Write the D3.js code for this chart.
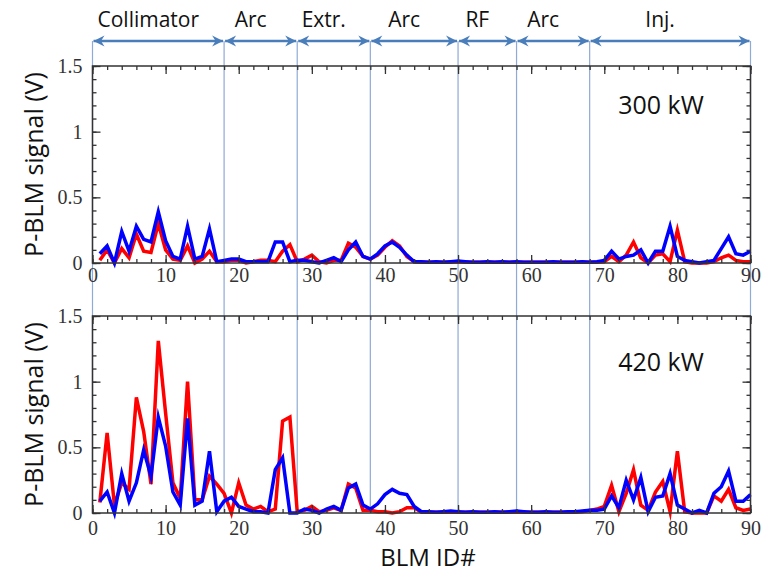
<!DOCTYPE html>
<html><head><meta charset="utf-8">
<script src="https://cdn.jsdelivr.net/npm/d3@7"></script>
<style>body{margin:0;background:#fff}</style>
</head><body>
<svg id="chart" width="765" height="575"></svg>
<script>
// ---------- data ----------
const blmIds = d3.range(1, 91);
const red300 = [0.02,0.10,0.00,0.11,0.04,0.22,0.09,0.08,0.30,0.10,
 0.03,0.02,0.13,0.00,0.03,0.09,0.01,0.01,0.02,0.02,
 0.00,0.01,0.02,0.02,0.01,0.09,0.14,0.01,0.03,0.06,
 0.01,0.00,0.02,0.02,0.15,0.12,0.05,0.03,0.06,0.12,
 0.17,0.13,0.05,0.01,0.005,0.005,0.005,0.005,0.005,0.01,
 0.005,0.005,0.005,0.005,0.005,0.005,0.005,0.005,0.005,0.005,
 0.005,0.005,0.005,0.005,0.005,0.005,0.005,0.005,0.005,0.01,
 0.05,0.01,0.06,0.16,0.04,0.00,0.06,0.07,0.01,0.25,
 0.01,0.00,0.00,0.00,0.01,0.04,0.06,0.02,0.01,0.01];
const blue300 = [0.07,0.13,0.00,0.24,0.09,0.28,0.18,0.16,0.39,0.17,
 0.05,0.03,0.28,0.03,0.05,0.26,0.01,0.02,0.03,0.03,
 0.01,0.01,0.01,0.01,0.16,0.16,0.01,0.02,0.02,0.01,
 0.00,0.02,0.04,0.01,0.10,0.16,0.05,0.03,0.07,0.13,
 0.16,0.12,0.06,0.01,0.01,0.005,0.01,0.005,0.01,0.015,
 0.01,0.005,0.005,0.01,0.005,0.01,0.005,0.01,0.005,0.005,
 0.005,0.005,0.01,0.005,0.005,0.005,0.01,0.005,0.01,0.02,
 0.09,0.03,0.05,0.06,0.10,0.00,0.09,0.09,0.28,0.05,
 0.02,0.01,0.00,0.01,0.02,0.11,0.20,0.07,0.06,0.09];
const red420 = [0.08,0.61,0.06,0.23,0.18,0.88,0.62,0.22,1.31,0.76,
 0.23,0.11,1.00,0.10,0.10,0.28,0.22,0.15,0.00,0.23,
 0.06,0.03,0.05,0.01,0.03,0.70,0.73,0.01,0.02,0.05,
 0.01,0.02,0.04,0.02,0.22,0.19,0.02,0.02,0.01,0.01,
 0.00,0.01,0.04,0.04,0.005,0.005,0.005,0.005,0.005,0.005,
 0.005,0.005,0.005,0.005,0.005,0.005,0.005,0.005,0.005,0.005,
 0.005,0.005,0.005,0.005,0.005,0.005,0.01,0.02,0.03,0.05,
 0.21,0.01,0.15,0.33,0.06,0.02,0.16,0.24,0.01,0.47,
 0.01,0.00,0.00,0.00,0.13,0.09,0.18,0.04,0.02,0.03];
const blue420 = [0.09,0.16,0.00,0.30,0.09,0.23,0.48,0.28,0.73,0.51,
 0.16,0.06,0.72,0.06,0.09,0.47,0.01,0.09,0.12,0.05,
 0.03,0.01,0.01,0.00,0.33,0.42,0.00,0.00,0.03,0.02,
 0.00,0.03,0.05,0.02,0.19,0.22,0.06,0.03,0.07,0.14,
 0.18,0.15,0.14,0.05,0.01,0.01,0.005,0.01,0.015,0.01,
 0.005,0.01,0.005,0.005,0.01,0.005,0.01,0.015,0.01,0.005,
 0.005,0.01,0.005,0.005,0.01,0.01,0.015,0.02,0.02,0.03,
 0.13,0.04,0.25,0.10,0.27,0.01,0.12,0.13,0.30,0.06,
 0.03,0.00,0.02,0.00,0.15,0.20,0.32,0.09,0.09,0.14];
const sectionBounds = [0,18,28,38,50,58,68,90];
const sectionLabels = ["Collimator","Arc","Extr.","Arc","RF","Arc","Inj."];
const panelLabels = ["300 kW","420 kW"];
const yTickValues = [0,0.5,1,1.5];
const yTickLabels = ["0","0.5","1","1.5"];
const xTickValues = d3.range(0,91,10);
const xTickLabels = xTickValues.map(String);
const yTitle = "P-BLM signal (V)";
const xTitle = "BLM ID#";

// ---------- layout ----------
const svg = d3.select("#chart");
const L = 92.5, R = 750.5;
const x = d3.scaleLinear().domain([0,90]).range([L,R]);
const panels = [
  {top:66, bottom:263, red:red300, blue:blue300, label:panelLabels[0], labelY:114, xpad:5},
  {top:316, bottom:513, red:red420, blue:blue420, label:panelLabels[1], labelY:371, xpad:8}
];
const axisColor = "#333";
const sectColor = "#8eaad6";
const arrowColor = "#4a7ebb";
const arrowY = 41;

// arrow marker
const defs = svg.append("defs");
defs.append("marker").attr("id","ah")
  .attr("viewBox","-2 -7 14 14").attr("refX",10).attr("refY",0)
  .attr("markerWidth",14).attr("markerHeight",14)
  .attr("markerUnits","userSpaceOnUse")
  .attr("orient","auto-start-reverse")
  .append("path").attr("d","M-1,-5.5 L10,0 L-1,5.5 L2.5,0 Z").attr("fill",arrowColor);

// section vertical lines
svg.append("g").selectAll("line").data(sectionBounds).join("line")
  .attr("x1",d=>x(d)).attr("x2",d=>x(d))
  .attr("y1",arrowY).attr("y2",panels[1].bottom)
  .attr("stroke",sectColor).attr("stroke-width",1.2);

// arrows
const segs = sectionLabels.map((lab,i)=>({lab, a:sectionBounds[i], b:sectionBounds[i+1]}));
svg.append("g").selectAll("line").data(segs).join("line")
  .attr("x1",d=>x(d.a)+1).attr("x2",d=>x(d.b)-1)
  .attr("y1",arrowY).attr("y2",arrowY)
  .attr("stroke",arrowColor).attr("stroke-width",2.5)
  .attr("marker-start","url(#ah)").attr("marker-end","url(#ah)");
svg.append("g").selectAll("text").data(segs).join("text")
  .attr("x",d=>(x(d.a)+x(d.b))/2 - 10).attr("y",27)
  .attr("text-anchor","middle")
  .attr("font-family","'Open Sans', sans-serif").attr("font-size",21)
  .attr("fill","#111").text(d=>d.lab);

const line = d3.line().x((d,i)=>x(blmIds[i]));

panels.forEach(p=>{
  const y = d3.scaleLinear().domain([0,1.5]).range([p.bottom,p.top]);
  const g = svg.append("g");
  // data lines
  line.y(d=>y(d));
  g.append("path").datum(p.red).attr("d",line).attr("fill","none")
    .attr("stroke","#ff0000").attr("stroke-width",3.5).attr("stroke-linejoin","miter").attr("stroke-miterlimit",6);
  g.append("path").datum(p.blue).attr("d",line).attr("fill","none")
    .attr("stroke","#0000ff").attr("stroke-width",3.5).attr("stroke-linejoin","miter").attr("stroke-miterlimit",6);

  const styleAxis = sel => {
    sel.select(".domain").remove();
    sel.selectAll("line").attr("stroke",axisColor).attr("stroke-width",1.3);
    sel.selectAll("text").attr("fill",axisColor)
      .attr("font-family","'Liberation Serif', 'Times New Roman', serif").attr("font-size",20);
  };
  // left major
  g.append("g").attr("transform",`translate(${L},0)`)
    .call(d3.axisLeft(y).tickValues(yTickValues).tickFormat((d,i)=>yTickLabels[i]).tickSizeInner(-8).tickSizeOuter(0).tickPadding(10))
    .call(styleAxis);
  g.append("g").attr("transform",`translate(${L},0)`)
    .call(d3.axisLeft(y).tickValues(d3.range(0,1.51,0.1)).tickFormat("").tickSizeInner(-4).tickSizeOuter(0))
    .call(styleAxis);
  // right
  g.append("g").attr("transform",`translate(${R},0)`)
    .call(d3.axisRight(y).tickValues(yTickValues).tickFormat("").tickSizeInner(-8).tickSizeOuter(0))
    .call(styleAxis);
  g.append("g").attr("transform",`translate(${R},0)`)
    .call(d3.axisRight(y).tickValues(d3.range(0,1.51,0.1)).tickFormat("").tickSizeInner(-4).tickSizeOuter(0))
    .call(styleAxis);
  // bottom
  g.append("g").attr("transform",`translate(0,${p.bottom})`)
    .call(d3.axisBottom(x).tickValues(xTickValues).tickFormat((d,i)=>xTickLabels[i]).tickSizeInner(-8).tickSizeOuter(0).tickPadding(p.xpad))
    .call(styleAxis);
  g.append("g").attr("transform",`translate(0,${p.bottom})`)
    .call(d3.axisBottom(x).tickValues(d3.range(0,91,2)).tickFormat("").tickSizeInner(-4).tickSizeOuter(0))
    .call(styleAxis);
  // top
  g.append("g").attr("transform",`translate(0,${p.top})`)
    .call(d3.axisTop(x).tickValues(xTickValues).tickFormat("").tickSizeInner(-8).tickSizeOuter(0))
    .call(styleAxis);
  g.append("g").attr("transform",`translate(0,${p.top})`)
    .call(d3.axisTop(x).tickValues(d3.range(0,91,2)).tickFormat("").tickSizeInner(-4).tickSizeOuter(0))
    .call(styleAxis);
  // frame
  g.append("rect").attr("x",L).attr("y",p.top).attr("width",R-L).attr("height",p.bottom-p.top)
    .attr("fill","none").attr("stroke",axisColor).attr("stroke-width",1.5);
  // panel label
  g.append("text").attr("x",661).attr("y",p.labelY).attr("text-anchor","middle")
    .attr("font-family","'Open Sans', sans-serif").attr("font-size",25).attr("fill","#111")
    .text(p.label);
  // y title
  g.append("text").attr("transform",`translate(43,${(p.top+p.bottom)/2}) rotate(-90)`)
    .attr("text-anchor","middle")
    .attr("font-family","'Open Sans', sans-serif").attr("font-size",25).attr("fill","#111")
    .text(yTitle);
});

svg.append("text").attr("x",428).attr("y",566).attr("text-anchor","middle")
  .attr("font-family","'Open Sans', sans-serif").attr("font-size",24).attr("fill","#111")
  .text(xTitle);
</script>
</body></html>
